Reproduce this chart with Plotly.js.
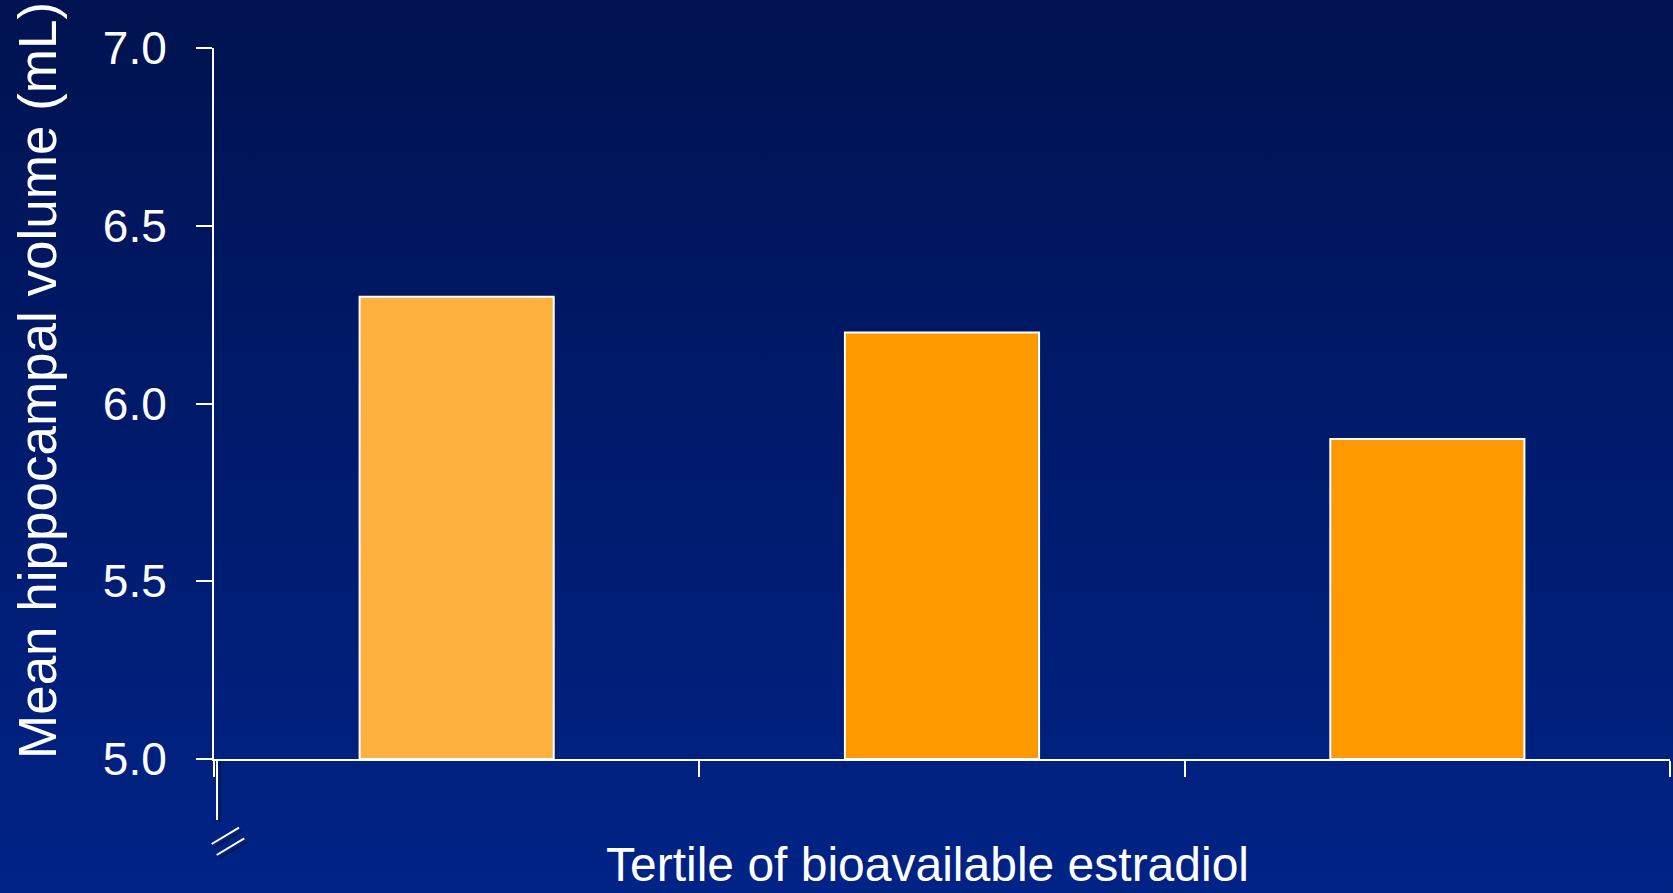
<!DOCTYPE html>
<html>
<head>
<meta charset="utf-8">
<script src="https://cdn.plot.ly/plotly-3.0.1.min.js"></script>
<style>
html, body { margin:0; padding:0; width:1673px; height:893px; overflow:hidden;
  background: linear-gradient(to bottom, #00124f 0%, #001a6a 45%, #002386 100%); }
#chart { width:1673px; height:893px; }
</style>
</head>
<body>
<div id="chart"></div>
<script>
const categories = ["Lowest tertile", "Middle tertile", "Highest tertile"];
const meanVolume = [6.30, 6.20, 5.90];
const barColors = ["#FFB13F", "#FF9900", "#FF9900"];
const yTickVals = [5.0, 5.5, 6.0, 6.5, 7.0];
const yTickText = ["5.0", "5.5", "6.0", "6.5", "7.0"];
const yTitle = "Mean hippocampal volume (mL)";
const xTitle = "Tertile of bioavailable estradiol";
const yMin = 5.0, yMax = 7.0;

const font = "Liberation Sans, Arial, sans-serif";

const trace = {
  type: "bar",
  x: categories,
  y: meanVolume.map(v => v - yMin),
  base: yMin,
  marker: { color: barColors, line: { color: "#ffffff", width: 2 } },
  hoverinfo: "x+y"
};

function brk(x0, y0, x1, y1, color) {
  return { type: "line", xref: "paper", yref: "paper", xsizemode: "pixel", ysizemode: "pixel",
    xanchor: 0, yanchor: 0, x0: x0, y0: y0, x1: x1, y1: y1, layer: "above",
    line: { color: color, width: 2 } };
}

const layout = {
  width: 1673, height: 893,
  paper_bgcolor: "rgba(0,0,0,0)",
  plot_bgcolor: "rgba(0,0,0,0)",
  margin: { l: 214, r: 3, t: 48, b: 134 },
  showlegend: false,
  bargap: 0.6,
  font: { family: font, color: "#ffffff" },
  xaxis: {
    type: "category",
    showticklabels: false,
    showline: true, linecolor: "#ffffff", linewidth: 2,
    ticks: "outside", tickson: "boundaries", ticklen: 16, tickwidth: 2, tickcolor: "#ffffff",
    showgrid: false, zeroline: false
  },
  yaxis: {
    range: [yMin, yMax],
    tickvals: yTickVals, ticktext: yTickText,
    showline: true, linecolor: "#ffffff", linewidth: 2,
    ticks: "outside", ticklen: 16, tickwidth: 2, tickcolor: "#ffffff",
    tickfont: { size: 46, color: "#ffffff", family: font },
    ticklabelstandoff: 20,
    showgrid: false, zeroline: false
  },
  annotations: [
    { text: yTitle, xref: "paper", yref: "paper", x: -0.1216, y: 0.533,
      xanchor: "center", yanchor: "middle", textangle: -90, showarrow: false,
      font: { size: 53, color: "#ffffff", family: font } },
    { text: xTitle, xref: "paper", yref: "paper", x: 0.49, y: -0.148,
      xanchor: "center", yanchor: "middle", showarrow: false,
      font: { size: 48, color: "#ffffff", family: font } }
  ],
  shapes: [
    brk(3, 0, 3, -61, "#ffffff"),
    brk(6, -2, 6, -63, "#0a1a4a"),
    brk(1, -88, 28, -72, "#0a1a4a"),
    brk(6, -99, 33, -83, "#0a1a4a"),
    brk(-2.3, -85, 25, -68.7, "#ffffff"),
    brk(2.7, -96, 30.3, -79.3, "#ffffff")
  ]
};

Plotly.newPlot("chart", [trace], layout, { displayModeBar: false, staticPlot: true });
</script>
</body>
</html>
